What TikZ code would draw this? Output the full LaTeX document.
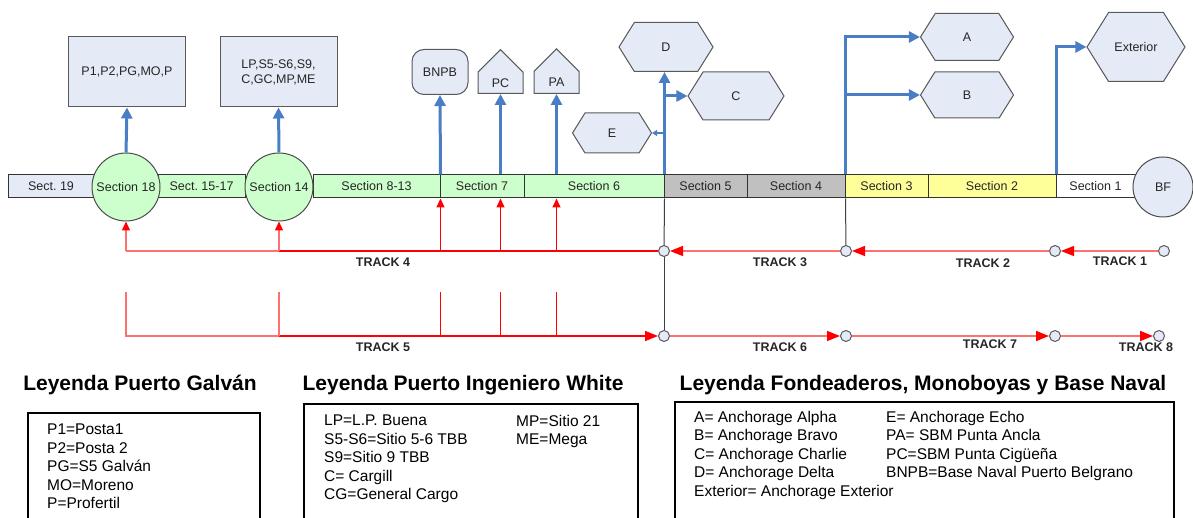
\documentclass[tikz,border=0pt]{standalone}
\usepackage{fontspec}
\setmainfont{Liberation Sans}
\frenchspacing
\usetikzlibrary{shapes.symbols,arrows.meta}
\definecolor{boxblue}{HTML}{E4EBF6}
\definecolor{secgreen}{HTML}{CCFFCC}
\definecolor{secgrey}{HTML}{C0C0C0}
\definecolor{secyellow}{HTML}{FFFF99}
\definecolor{linkblue}{HTML}{4A7EC4}
\definecolor{tracklight}{HTML}{FF7070}
\begin{document}
\begin{tikzpicture}
[x=1pt,y=-1pt,
  secdecorate/.style={shape=rectangle,draw=black!80,line width=1pt,
    minimum height=23pt,inner sep=0pt,text=black!85,
    font=\fontsize{12.5}{14}\selectfont},
  ringdecorate/.style={shape=circle,draw=black!70,line width=1pt,inner sep=0pt,
    text=black!85,font=\fontsize{12.5}{14}\selectfont},
  boxdecorate/.style={shape=rectangle,draw=black!65,line width=1pt,fill=boxblue,
    minimum width=117pt,minimum height=70pt,align=center,text=black!85,
    font=\fontsize{12.5}{15}\selectfont},
  hexdecorate/.style={shape=signal,signal to=west and east,signal pointer angle=116,
    draw=black!65,line width=1pt,fill=boxblue,inner sep=0pt,text=black!85,
    font=\fontsize{12.5}{14}\selectfont},
  housedecorate/.style={shape=signal,signal to=north,draw=black!65,line width=1pt,
    fill=boxblue,inner sep=0pt,minimum width=45pt,minimum height=30pt,text=black!85,
    anchor=south,font=\fontsize{12.5}{14}\selectfont},
  jointdecorate/.style={shape=circle,draw=black!65,line width=1pt,fill=boxblue,
    inner sep=0pt,minimum size=11pt},
  linkdecorate/.style={draw=linkblue,line width=3pt,-{Triangle[width=11pt,length=11pt]}},
  blackdecorate/.style={draw=black!75,line width=1pt},
  trackdecorate/.style={draw=tracklight,line width=1.5pt,
    -{Triangle[width=10pt,length=13pt,color=red]}},
  redline/.style={draw=red,line width=1.5pt},
  lightline/.style={draw=tracklight,line width=1.5pt},
  uparrow/.style={-{Triangle[width=8pt,length=9pt,color=red]}},
  trackfont/.style={text=black!85,font=\bfseries\fontsize{12.5}{14}\selectfont},
  legendbox/.style={draw=black,line width=1.8pt,anchor=north west,inner sep=0pt},
  legendtext/.style={anchor=north west,inner sep=0pt,align=left,
    font=\fontsize{15.5}{18.5}\selectfont}]
\useasboundingbox (0,0) rectangle (1193,518);
%% sections of the channel
\foreach \secname/\xa/\xb/\seccolor/\seclabel in {s19/8/94/boxblue/Sect. 19,
  s1517/158/245/secgreen/Sect. 15-17, s813/313/440/secgreen/Section 8-13,
  s7/440/524/secgreen/Section 7, s6/524/664/secgreen/Section 6,
  s5/664/747/secgrey/Section 5, s4/747/845/secgrey/Section 4,
  s3/845/928/secyellow/Section 3, s2/928/1056/secyellow/Section 2,
  s1/1056/1135/white/Section 1} {
  \pgfmathsetmacro{\secw}{\xb-\xa}
  \node (\secname) at ({(\xa+\xb)/2},186.5) [secdecorate,fill=\seccolor,
    minimum width=\secw pt] {\seclabel};
}
\node (s18) at (126,187) [ringdecorate,fill=secgreen,minimum size=68pt] {Section 18};
\node (s14) at (279,187) [ringdecorate,fill=secgreen,minimum size=68pt] {Section 14};
\node (bf) at (1163,187) [ringdecorate,fill=boxblue,minimum size=60pt] {BF};
%% berths, buoys and anchorages
\node (pbox) at (127,72) [boxdecorate] {P1,P2,PG,MO,P};
\node (lpbox) at (278.5,72) [boxdecorate] {LP,S5-S6,S9,\\C,GC,MP,ME};
\node (bnpb) at (440,72) [shape=rectangle,rounded corners=12pt,draw=black!65,
  line width=1pt,fill=boxblue,minimum width=56pt,minimum height=45pt,
  text=black!85,font=\fontsize{12.5}{14}\selectfont] {BNPB};
\node (pc) at (500.5,94) [housedecorate] {PC};
\node (pa) at (556.5,94) [housedecorate] {PA};
\foreach \hexname/\x/\y/\w/\h/\hexlabel in {dhex/666/47/94/49/D,
  chex/736/96/96/48/C, ehex/612/133/79/40/E, ahex/967/37/93/47/A,
  bhex/967/95/93/46/B, exthex/1136/47/98/69/Exterior} {
  \node (\hexname) at (\x,\y) [hexdecorate,minimum width=\w pt,
    minimum height=\h pt] {\hexlabel};
}
%% blue links
\draw[linkdecorate] (s18.north) -- (pbox.south);
\draw[linkdecorate] (s14.north) -- (lpbox.south);
\draw[linkdecorate] (s813.north east) -- (bnpb.south);
\draw[linkdecorate] (pc.south |- s7.north) -- (pc.south);
\draw[linkdecorate] (pa.south |- s6.north) -- (pa.south);
\draw[linkdecorate] (s6.north east) -- (s6.north east |- dhex.south);
\draw[linkdecorate] (s6.north east |- chex.west) -- (chex.west);
\draw[draw=linkblue,line width=1.5pt,-{Triangle[width=6pt,length=5pt]}]
  (s6.north east |- ehex.east) -- (ehex.east);
\draw[linkdecorate] (s4.north east) |- (ahex.west);
\draw[linkdecorate] (s4.north east |- bhex.west) -- (bhex.west);
\draw[linkdecorate] (s2.north east) |- (exthex.west);
%% joints of the tracks
\foreach \jname/\x/\y in {ja/664/251, jb/846/251, jc/1055/251, jd/1164/251,
  ka/664/336, kb/846/336, kc/1055/336, kd/1159/336} {
  \node (\jname) at (\x,\y) [jointdecorate] {};
}
\coordinate (t5top) at (0,292);
%% black lines
\draw[blackdecorate] (s6.south east) -- (ja);
\draw[blackdecorate] (ja) -- (ka);
\draw[blackdecorate] (s4.south east) -- (jb);
%% tracks
\path
\foreach \startnode/\endnode in {jd/jc, jc/jb, jb/ja, ka/kb, kb/kc, kc/kd} {
  (\startnode) edge[trackdecorate] (\endnode)
};
\draw[redline] (ja) -- (ja -| s14);
\draw[lightline] (ja -| s14) -- (ja -| s18);
\draw[lightline,uparrow] (ja -| s18) -- (s18.south);
\draw[lightline,uparrow] (ja -| s14) -- (s14.south);
\draw[redline,uparrow] (ja -| s813.east) -- (s813.south east);
\draw[redline,uparrow] (ja -| pc.south) -- (pc.south |- s7.south);
\draw[redline,uparrow] (ja -| pa.south) -- (pa.south |- s6.south);
\draw[lightline] (t5top -| s18) -- (ka -| s18) -- (ka -| s14);
\draw[redline,-{Triangle[width=10pt,length=13pt,color=red]}] (ka -| s14) -- (ka);
\draw[lightline] (t5top -| s14) -- (ka -| s14);
\draw[redline] (t5top -| s813.east) -- (ka -| s813.east);
\draw[redline] (t5top -| pc.south) -- (ka -| pc.south);
\draw[redline] (t5top -| pa.south) -- (ka -| pa.south);
\foreach \lname/\x/\y/\ltext in {lt1/1120/261/TRACK 1, lt2/983/263/TRACK 2,
  lt3/780/262/TRACK 3, lt4/383/262/TRACK 4, lt5/383/347/TRACK 5,
  lt6/780/347/TRACK 6, lt7/990/344/TRACK 7, lt8/1146/347/TRACK 8} {
  \node (\lname) at (\x,\y) [trackfont] {\ltext};
}
%% legends
\node (galtitle) at (140,385) [font=\bfseries\fontsize{21}{24}\selectfont] {Leyenda Puerto Galván};
\node (ibwtitle) at (463,385) [font=\bfseries\fontsize{21}{24}\selectfont] {Leyenda Puerto Ingeniero White};
\node (fontitle) at (923,385) [font=\bfseries\fontsize{21}{24}\selectfont] {Leyenda Fondeaderos, Monoboyas y Base Naval};
\node (galbox) at (27,412) [legendbox,minimum width=232pt,minimum height=130pt] {};
\node (ibwbox) at (303,403) [legendbox,minimum width=334pt,minimum height=130pt] {};
\node (fonbox) at (674,401) [legendbox,minimum width=499pt,minimum height=130pt] {};
\node (galtext) at (47,424) [legendtext] {P1=Posta1\\P2=Posta 2\\PG=S5 Galván\\MO=Moreno\\P=Profertil};
\node (ibwtexta) at (324,415) [legendtext] {LP=L.P. Buena\\S5-S6=Sitio 5-6 TBB\\S9=Sitio 9 TBB\\C= Cargill\\CG=General Cargo};
\node (ibwtextb) at (516,415) [legendtext] {MP=Sitio 21\\ME=Mega};
\node (fontexta) at (694,411) [legendtext] {A= Anchorage Alpha\\B= Anchorage Bravo\\C= Anchorage Charlie\\D= Anchorage Delta\\Exterior= Anchorage Exterior};
\node (fontextb) at (886,411) [legendtext] {E= Anchorage Echo\\PA= SBM Punta Ancla\\PC=SBM Punta Cigüeña\\BNPB=Base Naval Puerto Belgrano};
\end{tikzpicture}
\end{document}
